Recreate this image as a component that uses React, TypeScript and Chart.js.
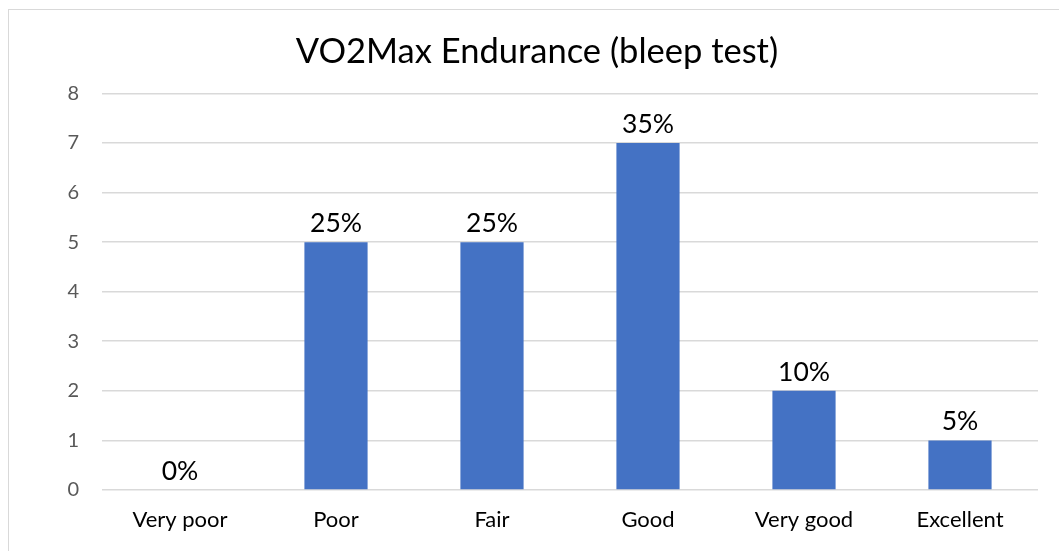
import React, { useEffect, useRef } from "react";
import { Chart, registerables } from "chart.js";

Chart.register(...registerables);

const categories = ["Very poor", "Poor", "Fair", "Good", "Very good", "Excellent"];
const counts = [0, 5, 5, 7, 2, 1];
const percentLabels = ["0%", "25%", "25%", "35%", "10%", "5%"];
const yTicks = [0, 1, 2, 3, 4, 5, 6, 7, 8];
const titleText = "VO2Max Endurance (bleep test)";

const FONT = "Lato, 'Open Sans', sans-serif";

const dataLabelPlugin = {
  id: "dataLabels",
  afterDatasetsDraw(chart: any) {
    const ctx = chart.ctx;
    const meta = chart.getDatasetMeta(0);
    ctx.save();
    ctx.font = `26.5px ${FONT}`;
    ctx.fillStyle = "#000000";
    ctx.textAlign = "center";
    ctx.textBaseline = "alphabetic";
    meta.data.forEach((bar: any, i: number) => {
      ctx.fillText(percentLabels[i], bar.x, bar.y - 10);
    });
    ctx.restore();
  },
};

export default function App() {
  const ref = useRef<HTMLCanvasElement | null>(null);
  useEffect(() => {
    if (!ref.current) return;
    const chart = new Chart(ref.current, {
      type: "bar",
      data: {
        labels: categories,
        datasets: [
          {
            data: counts,
            backgroundColor: "#4472c4",
            borderWidth: 0,
            barPercentage: 1,
            categoryPercentage: 0.405,
          },
        ],
      },
      options: {
        animation: false,
        responsive: false,
        maintainAspectRatio: false,
        layout: { padding: { left: 27, right: 21, top: 0, bottom: 0 } },
        plugins: {
          legend: { display: false },
          tooltip: { enabled: false },
          title: {
            display: true,
            text: titleText,
            color: "#000000",
            font: { family: FONT, size: 34.5, weight: "normal" },
            padding: { top: 21, bottom: 21 },
          },
        },
        scales: {
          x: {
            grid: { display: false, drawTicks: false },
            border: { display: false },
            ticks: {
              color: "#000000",
              font: { family: FONT, size: 22 },
              padding: 17,
              maxRotation: 0,
            },
            afterFit(scale: any) {
              scale.height = 61;
            },
          },
          y: {
            min: 0,
            max: 8,
            afterBuildTicks(scale: any) {
              scale.ticks = yTicks.map((v) => ({ value: v }));
            },
            grid: { color: "#d9d9d9", lineWidth: 1.6, drawTicks: false },
            border: { display: false },
            ticks: {
              color: "#595959",
              font: { family: FONT, size: 20 },
              padding: 23,
            },
            afterFit(scale: any) {
              scale.width = 66;
            },
          },
        },
      },
      plugins: [dataLabelPlugin],
    });
    return () => chart.destroy();
  }, []);
  return (
    <div
      style={{
        position: "absolute",
        left: 8,
        top: 9,
        width: 1051,
        height: 542,
        borderLeft: "1px solid #d9d9d9",
        borderTop: "1px solid #d9d9d9",
        background: "#ffffff",
        overflow: "hidden",
      }}
    >
      <canvas ref={ref} width={1050} height={541} style={{ display: "block" }} />
    </div>
  );
}
